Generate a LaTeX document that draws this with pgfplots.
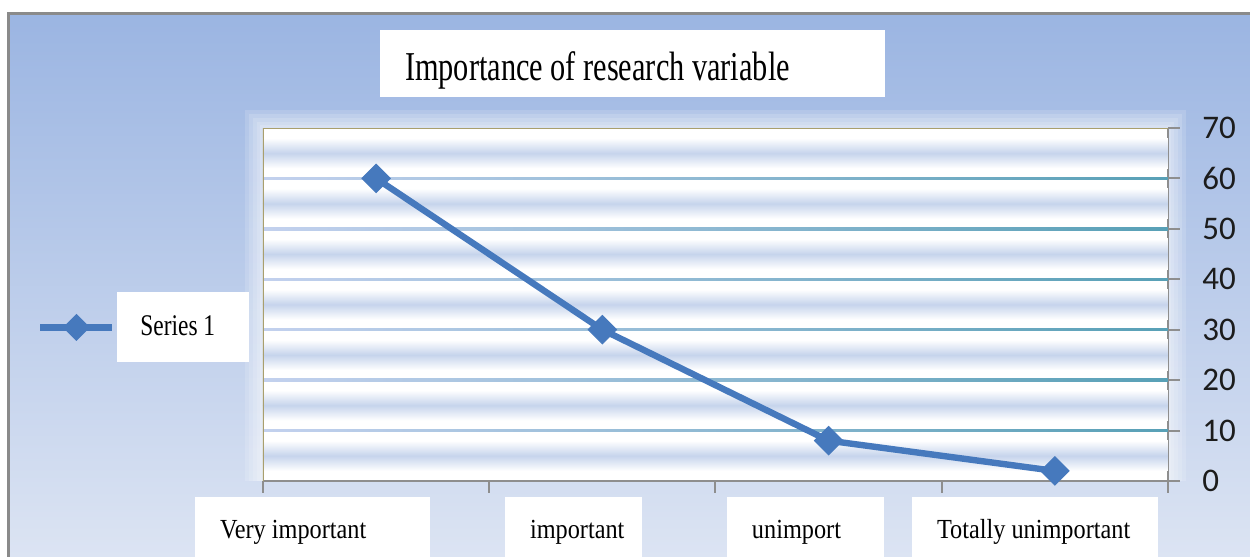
\documentclass[border=0pt]{standalone}
\usepackage{fontspec}
\usepackage{pgfplots}
\pgfplotsset{compat=1.18}
\setmainfont{Liberation Serif}
\newfontfamily\titlefont[FakeStretch=0.74]{Liberation Serif}
\newfontfamily\labfont[FakeStretch=0.88]{Liberation Serif}
\newfontfamily\legfont[FakeStretch=0.78]{Liberation Serif}
\newfontfamily\tickfont{Carlito}
\definecolor{bgtop}{HTML}{9BB5E2}
\definecolor{bgbot}{HTML}{DCE4F3}
\definecolor{framegray}{HTML}{8A8A8A}
\definecolor{stripe}{HTML}{C6D4EC}
\definecolor{gridL}{HTML}{C3D1EE}
\definecolor{gridR}{HTML}{58A0B6}
\definecolor{khaki}{HTML}{A99F6D}
\definecolor{axisgray}{HTML}{8E8E8E}
\definecolor{lineblue}{HTML}{4679BD}
\definecolor{tickcol}{HTML}{1C1C1C}
\newcommand\band[3]{%
  \shade[bottom color=white, top color=stripe] (axis cs:0.5,#1) rectangle (axis cs:4.5,#2);
  \shade[bottom color=stripe, top color=white] (axis cs:0.5,#2) rectangle (axis cs:4.5,#3);}
\newcommand\gline[1]{\shade[left color=gridL, right color=gridR] ([yshift=-0.6pt]axis cs:0.5,#1) rectangle ([yshift=0.6pt]axis cs:4.5,#1);}
\newcommand\catlab[2]{\makebox[#1][l]{\hspace*{12.5pt}#2}}
\begin{document}
\begin{tikzpicture}[x=0.5pt,y=0.5pt]
\fill[white] (0,0) rectangle (1250,557);
\shade[top color=bgtop, bottom color=bgbot] (8,0) rectangle (1250,543);
\draw[framegray, line width=1.5pt] (8,0) -- (8,543) -- (1250,543);
\foreach \o in {18,14,10,6,3} \fill[white, opacity=0.15] (263-\o,76) rectangle (1168+\o,429+\o);
\begin{axis}[
  at={(131.5pt,38pt)}, anchor=south west, scale only axis,
  width=452.5pt, height=176.5pt,
  xmin=0.5, xmax=4.5, ymin=0, ymax=70,
  axis x line*=bottom, axis y line*=right,
  axis line style={draw=axisgray, line width=1pt},
  axis background/.style={fill=white},
  tick align=outside, major tick length=6pt,
  ytick={0,10,...,70},
  /pgf/number format/assume math mode=true,
  yticklabel style={anchor=west, inner sep=0pt, xshift=11pt, font=\tickfont\fontsize{16.5}{16.5}\selectfont, text=tickcol},
  ytick style={draw=axisgray, line width=1pt},
  xtick={0.7188,1.8724,2.8978,3.9122},
  xticklabels={\catlab{117.5pt}{Very important},\catlab{68.5pt}{important},\catlab{78.5pt}{unimport},\catlab{123pt}{Totally unimportant}},
  xtick style={draw=none},
  xticklabel style={anchor=north, fill=white, inner xsep=0pt, inner ysep=0pt, text height=20.5pt, text depth=9.5pt, yshift=-2pt, font=\labfont\fontsize{13.8}{13.8}\selectfont, text=black},
  extra x ticks={0.5,1.5,2.5,3.5,4.5},
  extra x tick labels={},
  extra x tick style={xtick style={draw=axisgray, line width=1pt}, xticklabel style={fill=none}},
  title={\makebox[227.5pt][l]{Importance of research variable}},
  title style={at={(0.4083,1.2436)}, anchor=north, fill=white, inner xsep=12.5pt, inner ysep=0pt, text height=25pt, text depth=8.5pt, font=\titlefont\fontsize{20.5}{20.5}\selectfont},
  legend style={at={(-0.1613,0.5354)}, anchor=north west, fill=white, draw=none, inner xsep=11.5pt, inner ysep=0pt, minimum height=35pt, font=\legfont\fontsize{15}{15}\selectfont, nodes={inner sep=0pt}},
  legend cell align=left,
  legend image code/.code={%
    \draw[overlay, lineblue, line width=3.5pt] (-50pt,0pt) -- (-14pt,0pt);
    \fill[overlay, lineblue] (-32pt,4.5pt) -- (-27.5pt,0pt) -- (-32pt,-4.5pt) -- (-36.5pt,0pt) -- cycle;},
]
\band{2}{5}{8}
\band{12}{15}{18}
\band{22}{25}{28}
\band{32}{35}{38}
\band{42}{45}{48}
\band{52}{55}{58}
\band{62}{65}{68}
\gline{10}\gline{20}\gline{30}\gline{40}\gline{50}\gline{60}
\draw[khaki, line width=1pt] (rel axis cs:0,0) -- (rel axis cs:0,1) -- (rel axis cs:1,1);
\addplot[lineblue, line width=3.2pt, mark=square*, mark size=5pt, mark options={rotate=45, line width=0.5pt, fill=lineblue, draw=lineblue}]
  coordinates {(1,60) (2,30) (3,8) (4,2)};
\addlegendentry{\makebox[43pt][l]{Series 1}}
\end{axis}
\pgfresetboundingbox
\useasboundingbox (0,0) rectangle (1250,557);
\end{tikzpicture}
\end{document}
